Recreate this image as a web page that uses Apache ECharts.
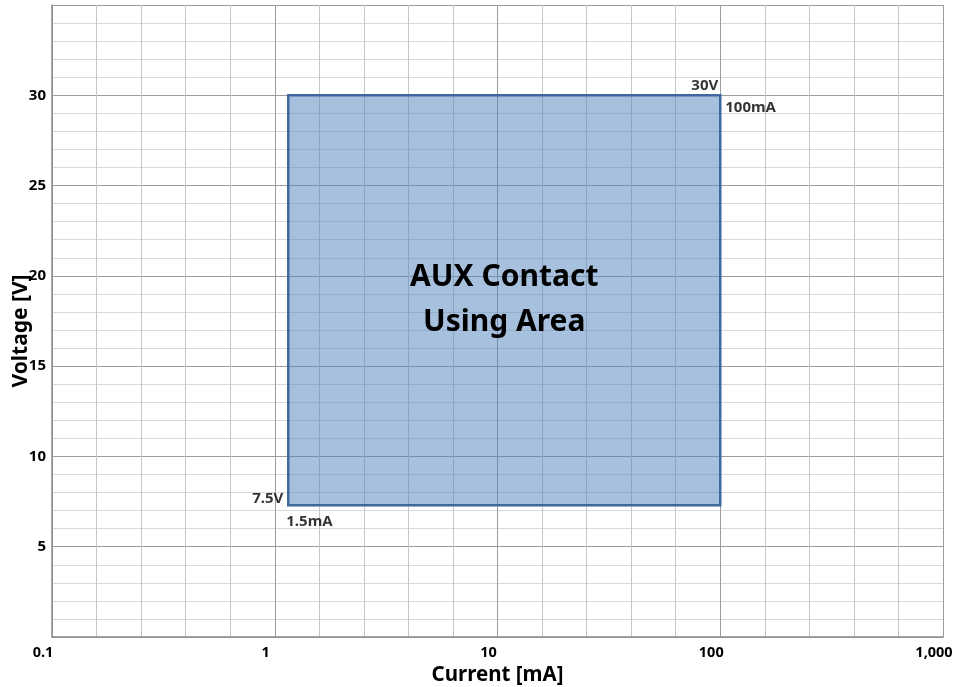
<!DOCTYPE html>
<html>
<head>
<meta charset="utf-8">
<script src="https://cdn.jsdelivr.net/npm/echarts@6/dist/echarts.min.js"></script>
<style>
  html, body { margin: 0; padding: 0; background: #fff; }
  #chart { width: 956px; height: 687px; }
</style>
</head>
<body>
<div id="chart"></div>
<script>
  // using area corners (as drawn)
  const currentRange = [1.15, 100];   // mA
  const voltageRange = [7.3, 30];     // V
  const areaText = 'AUX Contact\nUsing Area';
  // corner annotations: [current, voltage, text, dx, dy, align]
  const cornerNotes = [
    [100, 30, '30V', -2, -10, 'right'],
    [100, 30, '100mA', 5, 12, 'left'],
    [1.15, 7.3, '7.5V', -5, -6, 'right'],
    [1.15, 7.3, '1.5mA', -2, 17, 'left']
  ];
  const xMin = 0.1, xMax = 1000;
  const yMin = 0, yMax = 35;
  // grid divides each decade in 5 equal log steps
  const decadeSteps = 5;

  const font = 'Noto Sans';
  const major = '#9c9c9c';
  const chart = echarts.init(document.getElementById('chart'));

  const gridColors = [major];
  for (let i = 1; i < decadeSteps; i++) gridColors.push('#c6c6c6');
  const yColors = [major, '#d9d9d9', '#d9d9d9', '#d9d9d9', '#d9d9d9'];

  const option = {
    animation: false,
    textStyle: { fontFamily: font },
    grid: { left: 52, right: 13, top: 5, bottom: 50, outerBoundsMode: 'none', containLabel: false },
    xAxis: [{
      type: 'log',
      logBase: 10,
      min: xMin,
      max: xMax,
      name: 'Current [mA]',
      nameLocation: 'middle',
      nameGap: 27,
      nameTextStyle: { fontFamily: font, fontSize: 20.5, fontWeight: 'bold', color: '#000' },
      axisLine: { onZero: false, lineStyle: { color: '#8c8c8c', width: 1.5 } },
      axisTick: { show: false },
      axisLabel: {
        fontFamily: font, fontSize: 14.5, fontWeight: 'bold', color: '#000', margin: 8,
        padding: [0, 18, 0, 0],
        formatter: v => Number(v).toLocaleString('en-US')
      },
      splitLine: { show: false },
      z: 3
    }, {
      // helper axis in decade units, only for the grid lines
      type: 'value',
      min: Math.log10(xMin),
      max: Math.log10(xMax),
      interval: 1 / decadeSteps,
      position: 'bottom',
      axisLine: { show: false, onZero: false },
      axisTick: { show: false },
      axisLabel: { show: false },
      splitLine: { show: true, lineStyle: { color: gridColors } }
    }],
    yAxis: {
      type: 'value',
      min: yMin,
      max: yMax,
      interval: 1,
      name: 'Voltage [V]',
      nameLocation: 'middle',
      nameGap: 20,
      nameMoveOverlap: false,
      nameTextStyle: { fontFamily: font, fontSize: 21, fontWeight: 'bold', color: '#000', padding: [0, 20, 0, 0] },
      axisLine: { show: true, onZero: false, lineStyle: { color: '#8c8c8c', width: 1.5 } },
      axisTick: { show: false },
      axisLabel: {
        fontFamily: font, fontSize: 15, fontWeight: 'bold', color: '#000', margin: 6,
        formatter: v => (v % 5 === 0 && v > yMin && v < yMax) ? String(v) : ''
      },
      splitLine: { show: true, lineStyle: { color: yColors } }
    },
    series: [{
      type: 'scatter',
      xAxisIndex: 0,
      symbolSize: 0,
      silent: true,
      data: cornerNotes.map(n => ({
        value: [n[0], n[1]],
        label: {
          show: true,
          formatter: n[2],
          position: [n[3], n[4]],
          align: n[5],
          verticalAlign: 'middle',
          fontFamily: font,
          fontSize: 15,
          fontWeight: 'bold',
          color: '#000'
        }
      })),
      markArea: {
        silent: true,
        itemStyle: {
          color: 'rgba(79,129,189,0.5)',
          borderColor: '#41689c',
          borderWidth: 2.5
        },
        label: {
          show: true,
          position: 'inside',
          formatter: areaText,
          fontFamily: font,
          fontSize: 30,
          fontWeight: 'bold',
          lineHeight: 45,
          color: '#000'
        },
        data: [[
          { coord: [currentRange[0], voltageRange[1]] },
          { coord: [currentRange[1], voltageRange[0]] }
        ]]
      }
    }]
  };

  chart.setOption(option);
</script>
</body>
</html>
